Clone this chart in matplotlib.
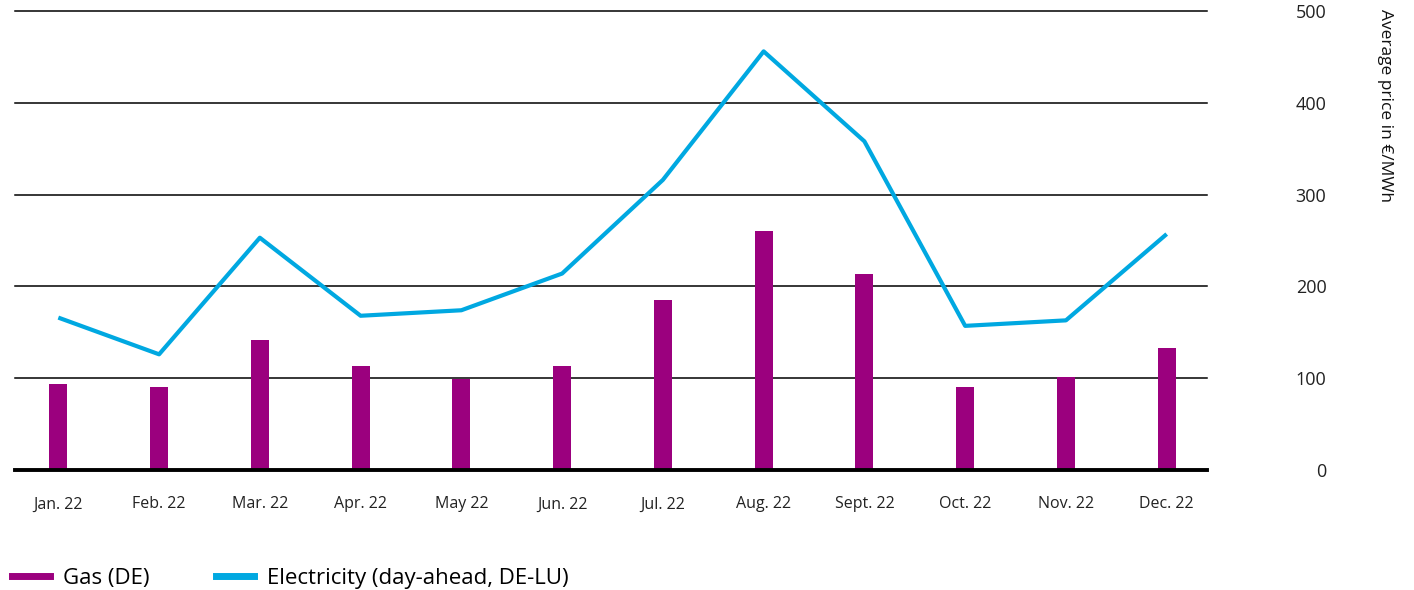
import matplotlib
matplotlib.use("Agg")
import matplotlib.pyplot as plt
from matplotlib.lines import Line2D

months = ["Jan. 22", "Feb. 22", "Mar. 22", "Apr. 22", "May 22", "Jun. 22",
          "Jul. 22", "Aug. 22", "Sept. 22", "Oct. 22", "Nov. 22", "Dec. 22"]
gas = [94, 90, 142, 113, 99, 113, 185, 260, 213, 90, 101, 133]
electricity = [166, 126, 253, 168, 174, 214, 316, 456, 358, 157, 163, 257]
yticks = [0, 100, 200, 300, 400, 500]

gas_color = "#9b007e"
elec_color = "#00a8e1"

plt.rcParams["font.family"] = ["Open Sans", "DejaVu Sans"]

fig = plt.figure(figsize=(14.14, 5.90), dpi=100)
ax = fig.add_axes([0.0106, 0.2034, 0.843, 0.778])

x = list(range(len(months)))
ax.bar(x, gas, width=0.18, color=gas_color, zorder=3)
ax.plot(x, electricity, color=elec_color, lw=3, zorder=4, solid_capstyle="butt")

for v in yticks[1:]:
    ax.axhline(v, color="black", lw=1.1, zorder=1, clip_on=False)
ax.axhline(0, color="black", lw=2.8, zorder=5, clip_on=False)

ax.set_xlim(-0.43, 11.4)
ax.set_ylim(0, 500)
for s in ax.spines.values():
    s.set_visible(False)

ax.set_xticks(x)
ax.set_xticklabels(months, fontsize=11.5, color="#222222")
ax.tick_params(axis="x", length=0, pad=19)

ax.yaxis.tick_right()
ax.set_yticks(yticks)
ax.set_yticklabels([str(v) for v in yticks], fontsize=13, color="#222222",
                   ha="right", va="center_baseline")
ax.tick_params(axis="y", length=0, pad=86)

fig.text(1385 / 1414, 1 - 9 / 590, "Average price in €/MWh", rotation=270,
         ha="center", va="top", fontsize=12.5, color="#111111")

handles = [Line2D([], [], color=gas_color, lw=5),
           Line2D([], [], color=elec_color, lw=5)]
fig.legend(handles, ["Gas (DE)", "Electricity (day-ahead, DE-LU)"],
           loc="center left", bbox_to_anchor=(0.0085, 0.0203), ncol=2, frameon=False,
           fontsize=16, handlelength=1.7, columnspacing=3.0, handletextpad=0.6,
           borderpad=0, borderaxespad=0)

fig.savefig("out.png", dpi=100)
